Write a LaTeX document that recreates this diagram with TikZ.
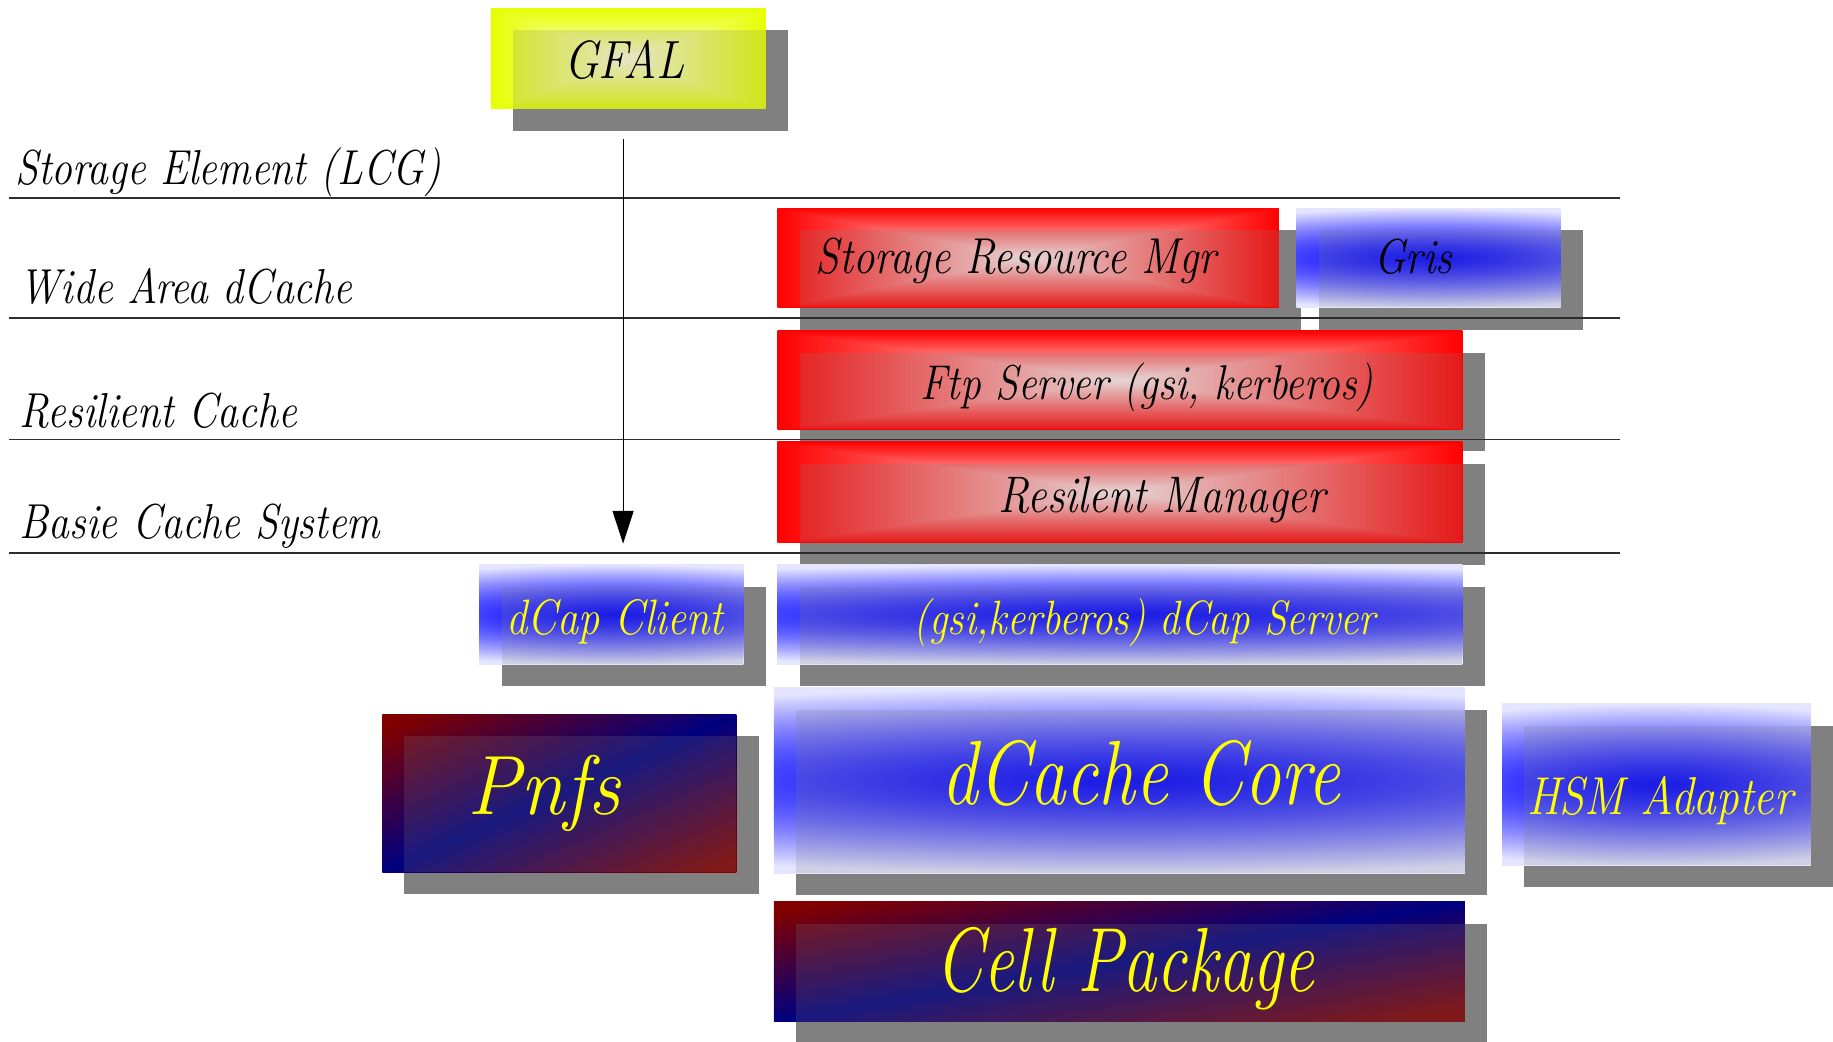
\documentclass[tikz,border=0pt]{standalone}
\usepackage{graphicx}
\usetikzlibrary{arrows.meta,fit,backgrounds}
\definecolor{shadowc}{RGB}{128,128,128}
\definecolor{rulec}{RGB}{45,45,45}
\definecolor{txtyel}{RGB}{255,255,0}
% rectangular gradient: white-ish centre, red edges
\pgfdeclarefunctionalshading{rectred}{\pgfpointorigin}{\pgfpoint{100bp}{100bp}}{}{50 sub abs 25 div exch 50 sub abs 25 div 2 copy lt {exch} if pop dup 1 gt {pop 1} if 1 exch sub 0.92 mul 1 exch dup}
% rectangular gradient: pale centre, yellow edges
\pgfdeclarefunctionalshading{rectyel}{\pgfpointorigin}{\pgfpoint{100bp}{100bp}}{}{50 sub abs 25 div exch 50 sub abs 25 div 2 copy lt {exch} if pop dup 1 gt {pop 1} if dup 0.1 mul 1 exch sub exch 1 exch sub 0.85 mul 1 exch}
% blue band in the middle, fading to white
\pgfdeclarefunctionalshading{blueband}{\pgfpointorigin}{\pgfpoint{100bp}{100bp}}{}{50 sub 25 div dup mul exch 50 sub 25 div dup mul 0.15 mul add sqrt dup 1 gt {pop 1} if dup dup sqrt mul 0.8 mul exch sqrt 0.1 mul add dup 1}
% diagonal: dark red corners, navy along the anti-diagonal
\pgfdeclarefunctionalshading{diagrb}{\pgfpointorigin}{\pgfpoint{100bp}{100bp}}{}{sub abs 50 div 0.9 div dup 1 gt {pop 1} if dup 0.5 mul 0 3 -1 roll 1 exch sub 0.5 mul}
\newcommand\ct[3]{\scalebox{#1}[1]{\fontsize{#2pt}{#2pt}\selectfont\itshape #3}}
\tikzset{
  cbox/.style={inner sep=0pt, outer sep=0pt, shade, shading=#1},
  rule/.style={draw=rulec, line width=0.8pt},
  flow/.style={draw=black, line width=0.5pt, -{Triangle[length=14pt,width=9pt]}},
  lab/.style={inner sep=0pt, outer sep=0pt, text=black},
  ylab/.style={inner sep=0pt, outer sep=0pt, text=txtyel},
}
\begin{document}
\begin{tikzpicture}[x=0.5pt,y=-0.5pt]
\useasboundingbox (0,0) rectangle (1568,891);
\begin{scope}[on background layer]
  \fill[white] (0,0) rectangle (1568,891);
\end{scope}

% layer rules
\coordinate (r1l) at (8,169); \coordinate (r1r) at (1386,169);
\coordinate (r2l) at (8,272); \coordinate (r2r) at (1386,272);
\coordinate (r3l) at (8,376); \coordinate (r3r) at (1386,376);
\coordinate (r4l) at (8,473); \coordinate (r4r) at (1386,473);
\draw[rule] (r1l) -- (r1r);
\draw[rule] (r2l) -- (r2r);
\draw[rule] (r3l) -- (r3r);
\draw[rule] (r4l) -- (r4r);

% arrow
\coordinate (aS) at (533,119);
\coordinate (aE) at (533,465);
\draw[flow] (aS) -- (aE);

% boxes
\node[cbox=rectyel, fit={(420,7)(655,93)}] (gfal) {};
\node[cbox=rectred, fit={(665,178)(1094,263)}] (srm) {};
\node[cbox=blueband, fit={(1109,178)(1335,263)}] (gris) {};
\node[cbox=rectred, fit={(665,283)(1251,367)}] (ftp) {};
\node[cbox=rectred, fit={(665,378)(1251,464)}] (resm) {};
\node[cbox=blueband, fit={(410,483)(636,568)}] (dcc) {};
\node[cbox=blueband, fit={(665,483)(1251,568)}] (dcs) {};
\node[cbox=diagrb, fit={(327,611)(630,746)}] (pnfs) {};
\node[cbox=blueband, fit={(662,588)(1253,747)}] (core) {};
\node[cbox=blueband, fit={(1285,602)(1549,740)}] (hsm) {};
\node[cbox=diagrb, fit={(662,771)(1253,874)}] (cell) {};

% drop shadows
\begin{scope}[on background layer]
  \foreach \n in {gfal,srm,gris,ftp,resm,dcc,dcs,pnfs,core,hsm,cell}
    \fill[shadowc] ([shift={(19,19)}]\n.north west) rectangle ([shift={(19,19)}]\n.south east);
\end{scope}
% shadow showing through the boxes
\foreach \n in {gfal,srm,gris,ftp,resm,dcc,dcs,pnfs,core,hsm,cell}
  \fill[shadowc, fill opacity=0.2] ([shift={(19,19)}]\n.north west) rectangle (\n.south east);

% layer labels
\node[lab, anchor=base west] (l1) at (13,158) {\ct{0.85}{21}{Storage Element (LCG)}};
\node[lab, anchor=base west] (l2) at (17,260) {\ct{0.85}{21}{Wide Area dCache}};
\node[lab, anchor=base west] (l3) at (17,366) {\ct{0.85}{21}{Resilient Cache}};
\node[lab, anchor=base west] (l4) at (17,461) {\ct{0.85}{21}{Basie Cache System}};

% box texts
\node[lab, anchor=base] (t-gfal) at (534,67) {\ct{0.85}{23}{GFAL}};
\node[lab, anchor=base] (t-srm) at (869,234) {\ct{0.85}{21.6}{Storage Resource Mgr}};
\node[lab, anchor=base] (t-gris) at (1209,234) {\ct{0.85}{21}{Gris}};
\node[lab, anchor=base] (t-ftp) at (981,342) {\ct{0.85}{20.9}{Ftp Server (gsi, kerberos)}};
\node[lab, anchor=base] (t-resm) at (994,438) {\ct{0.85}{22}{Resilent Manager}};
\node[ylab, anchor=base] (t-dcc) at (526,543) {\ct{0.85}{21.3}{dCap Client}};
\node[ylab, anchor=base] (t-dcs) at (979,543) {\ct{0.85}{20.6}{(gsi,kerberos) dCap Server}};
\node[ylab, anchor=base] (t-pnfs) at (465,697) {\ct{0.95}{36}{Pnfs}};
\node[ylab, anchor=base] (t-core) at (976,688) {\ct{0.8}{39}{dCache Core}};
\node[ylab, anchor=base] (t-hsm) at (1420,697) {\ct{0.85}{22.8}{HSM Adapter}};
\node[ylab, anchor=base] (t-cell) at (962,848) {\ct{0.75}{39}{Cell Package}};
\end{tikzpicture}
\end{document}
